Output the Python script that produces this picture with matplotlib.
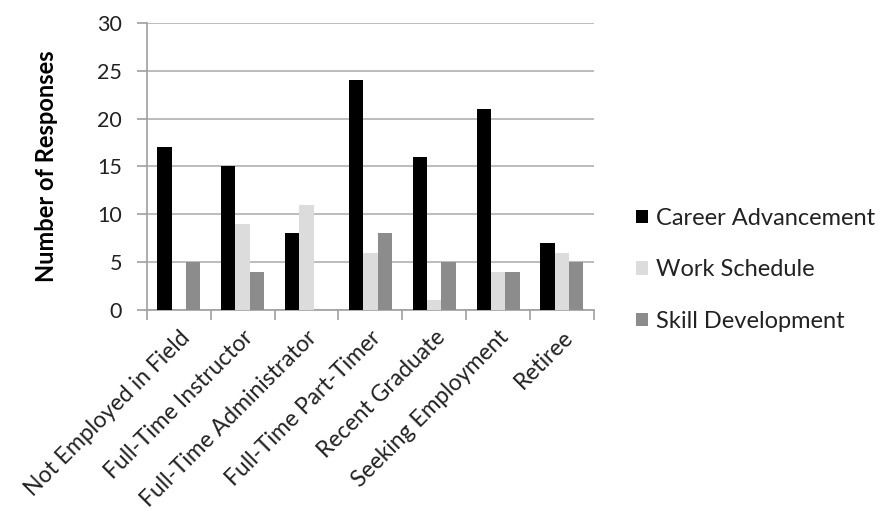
import numpy as np
import matplotlib.pyplot as plt

categories = ["Not Employed in Field", "Full-Time Instructor", "Full-Time Administrator",
              "Full-Time Part-Timer", "Recent Graduate", "Seeking Employment", "Retiree"]
career = [17, 15, 8, 24, 16, 21, 7]
schedule = [0, 9, 11, 6, 1, 4, 6]
skill = [5, 4, 0, 8, 5, 4, 5]
series_names = ["Career Advancement", "Work Schedule", "Skill Development"]
colors = ["#000000", "#dcdcdc", "#8c8c8c"]

plt.rcParams['font.family'] = ['Lato', 'DejaVu Sans']

fig = plt.figure(figsize=(8.85, 5.21), dpi=100)
ax = fig.add_axes([0.166, 0.405, 0.505, 0.551])

x = np.arange(len(categories))
w = 0.225
for i, (vals, name, c) in enumerate(zip([career, schedule, skill], series_names, colors)):
    ax.bar(x + (i - 1) * w, vals, width=w, color=c, label=name, zorder=3)

ax.set_xlim(-0.5, len(categories) - 0.5)
ax.set_ylim(0, 30)
ax.set_yticks(range(0, 31, 5))
ax.yaxis.grid(True, color="#b0b0b0", linewidth=1.2, zorder=0)
for s in ["top", "right"]:
    ax.spines[s].set_visible(False)
for s in ["left", "bottom"]:
    ax.spines[s].set_color("#a0a0a0")
    ax.spines[s].set_linewidth(1.2)
ax.tick_params(axis="y", colors="#a0a0a0", labelcolor="#222222", labelsize=15.5, length=7, width=1.2, pad=11)
ax.set_xticks(x)
ax.set_xticklabels(categories, rotation=45, ha="right", rotation_mode="anchor", fontsize=16.5,
                   color="#222222")
ax.tick_params(axis="x", length=0, pad=12)
ax.set_xticks(np.arange(len(categories) + 1) - 0.5, minor=True)
ax.tick_params(axis="x", which="minor", length=7, width=1.2, colors="#a0a0a0")
ax.set_ylabel("Number of Responses", fontsize=17, fontweight="bold", labelpad=28)

fig.legend(loc="center left", bbox_to_anchor=(0.695, 0.482), frameon=False, fontsize=17,
           handlelength=0.5, handleheight=0.5, handletextpad=0.35, labelspacing=1.3,
           labelcolor="#222222")

fig.savefig("out.png", dpi=100)
